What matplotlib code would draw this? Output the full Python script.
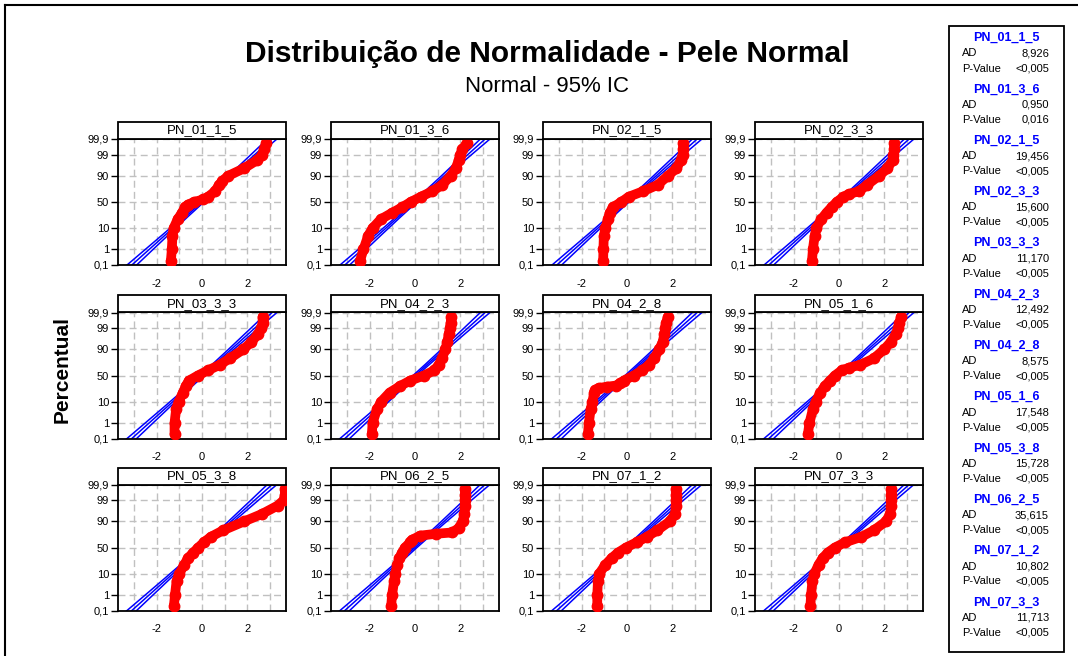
import numpy as np
import matplotlib.pyplot as plt
from matplotlib.patches import Rectangle
from statistics import NormalDist

plt.rcParams['font.family'] = ['Liberation Sans', 'DejaVu Sans']
plt.rcParams['axes.unicode_minus'] = False

# Panel names and Anderson-Darling results
names = ["PN_01_1_5", "PN_01_3_6", "PN_02_1_5", "PN_02_3_3",
         "PN_03_3_3", "PN_04_2_3", "PN_04_2_8", "PN_05_1_6",
         "PN_05_3_8", "PN_06_2_5", "PN_07_1_2", "PN_07_3_3"]
ad_values = ["8,926", "0,950", "19,456", "15,600", "11,170", "12,492",
             "8,575", "17,548", "15,728", "35,615", "10,802", "11,713"]
p_values = ["<0,005", "0,016", "<0,005", "<0,005", "<0,005", "<0,005",
            "<0,005", "<0,005", "<0,005", "<0,005", "<0,005", "<0,005"]

# percent levels and standardized values at those levels
pct_std = [0.2, 1, 5, 10, 20, 30, 40, 50, 60, 70, 80, 90, 95, 98, 99, 99.5, 99.8]

pct_01_1_5 = [0.2, 1, 5, 10, 20, 30, 40, 45, 50, 55, 60, 70, 80, 85, 90, 95, 98, 99, 99.5, 99.8]
val_01_1_5 = [-1.37, -1.33, -1.30, -1.25, -1.07, -0.88, -0.75, -0.62, -0.35, 0.05, 0.27, 0.57, 0.76,
              0.9, 1.15, 1.84, 2.43, 2.66, 2.73, 2.82]
pct_01_3_6 = pct_std
val_01_3_6 = [-2.42, -2.27, -2.06, -1.87, -1.5, -1.0, -0.56, -0.19, 0.25, 0.76, 1.2, 1.57, 1.79,
              1.93, 2.0, 2.08, 2.27]
pct_02_1_5 = pct_std
val_02_1_5 = [-1.05, -1.04, -1.02, -0.95, -0.84, -0.76, -0.62, -0.25, 0.07, 0.7, 1.35, 1.8, 2.17,
              2.38, 2.45, 2.47, 2.48]
pct_02_3_3 = [0.2, 1, 5, 10, 20, 30, 40, 50, 60, 65, 70, 80, 90, 95, 98, 99, 99.5, 99.8]
val_02_3_3 = [-1.19, -1.15, -1.07, -1.0, -0.78, -0.55, -0.33, -0.1, 0.19, 0.42, 0.87, 1.24, 1.76,
              2.13, 2.36, 2.4, 2.43, 2.43]
pct_03_3_3 = pct_std
val_03_3_3 = [-1.21, -1.21, -1.14, -1.03, -0.84, -0.72, -0.58, -0.18, 0.27, 0.78, 1.23, 1.82, 2.18,
              2.48, 2.62, 2.67, 2.67]
pct_04_2_3 = pct_std
val_04_2_3 = [-1.9, -1.87, -1.67, -1.49, -1.12, -0.67, -0.22, 0.4, 0.85, 1.04, 1.19, 1.34, 1.42,
              1.49, 1.54, 1.57, 1.6]
pct_04_2_8 = [0.2, 1, 5, 10, 20, 24, 27, 29, 31, 35, 40, 50, 60, 70, 80, 90, 95, 98, 99, 99.5, 99.8]
val_04_2_8 = [-1.72, -1.68, -1.6, -1.52, -1.45, -1.4, -1.25, -0.9, -0.5, -0.3, -0.15, 0.3, 0.67,
              0.97, 1.2, 1.42, 1.57, 1.65, 1.68, 1.72, 1.8]
pct_05_1_6 = [0.2, 1, 5, 10, 20, 30, 40, 50, 60, 65, 70, 80, 90, 95, 98, 99, 99.5, 99.8]
val_05_1_6 = [-1.37, -1.3, -1.15, -1.03, -0.82, -0.63, -0.4, -0.18, 0.12, 0.45, 0.94, 1.54, 1.99,
              2.28, 2.51, 2.61, 2.66, 2.73]
pct_05_3_8 = pct_std
val_05_3_8 = [-1.24, -1.19, -1.12, -1.0, -0.78, -0.62, -0.39, -0.16, 0.08, 0.39, 0.93, 1.86, 2.64,
              3.33, 3.6, 3.65, 3.65]
pct_06_2_5 = [0.2, 1, 5, 10, 20, 30, 40, 50, 60, 65, 72, 75, 77, 83, 90, 95, 98, 99, 99.5, 99.8]
val_06_2_5 = [-1.05, -1.01, -0.92, -0.87, -0.78, -0.69, -0.57, -0.44, -0.21, -0.12, 0.23, 0.94,
              1.65, 1.92, 2.1, 2.18, 2.2, 2.2, 2.2, 2.2]
pct_07_1_2 = pct_std
val_07_1_2 = [-1.31, -1.31, -1.28, -1.22, -0.95, -0.68, -0.4, -0.04, 0.42, 0.88, 1.33, 1.88, 2.12,
              2.15, 2.15, 2.15, 2.15]
pct_07_3_3 = pct_std
val_07_3_3 = [-1.26, -1.23, -1.17, -1.08, -0.9, -0.72, -0.5, -0.18, 0.27, 0.99, 1.53, 2.07, 2.25,
              2.3, 2.3, 2.3, 2.3]

series = [(pct_01_1_5, val_01_1_5), (pct_01_3_6, val_01_3_6), (pct_02_1_5, val_02_1_5),
          (pct_02_3_3, val_02_3_3), (pct_03_3_3, val_03_3_3), (pct_04_2_3, val_04_2_3),
          (pct_04_2_8, val_04_2_8), (pct_05_1_6, val_05_1_6), (pct_05_3_8, val_05_3_8),
          (pct_06_2_5, val_06_2_5), (pct_07_1_2, val_07_1_2), (pct_07_3_3, val_07_3_3)]

# fitted normal (standardized data) and sample size used for the 95% CI
mu, sigma, n_obs = 0.0, 1.0, 500

ytick_vals = [0.1, 1, 10, 50, 90, 99, 99.9]
ytick_labels = ["0,1", "1", "10", "50", "90", "99", "99,9"]

# probability scale
nd = NormalDist()
_ppf = np.vectorize(nd.inv_cdf, otypes=[float])
_cdf = np.vectorize(nd.cdf, otypes=[float])


def prob_fwd(p):
    p = np.clip(np.asarray(p, dtype=float), 1e-6, 100 - 1e-6)
    return _ppf(p / 100.0)


def prob_inv(z):
    return 100.0 * _cdf(np.asarray(z, dtype=float))


W, H = 1078, 656
fig = plt.figure(figsize=(W / 100, H / 100), dpi=100)


def fx(x):
    return x / W


def fy(y):
    return 1 - y / H


# outer frame
fig.add_artist(plt.Line2D([fx(5), fx(5)], [fy(5), 0], color='black', lw=1.5))
fig.add_artist(plt.Line2D([fx(5), 1], [fy(5), fy(5)], color='black', lw=1.5))

fig.text(fx(547), fy(54), "Distribuição de Normalidade - Pele Normal", ha='center', va='center',
         fontsize=21.5, fontweight='bold')
fig.text(fx(547), fy(87), "Normal - 95% IC", ha='center', va='center', fontsize=16)
fig.text(fx(62), fy(370), "Percentual", ha='center', va='center', rotation=90,
         fontsize=15, fontweight='bold')

lefts = [118, 331, 543, 755]
tops = [139, 312.5, 484.5]
aw, ah, strip = 168, 126, 17

z = np.linspace(-3.4, 3.4, 300)
fit_x = mu + sigma * z
half = 1.96 * sigma * np.sqrt((1 + z ** 2 / 2) / n_obs)
fit_p = prob_inv(z)

for i, name in enumerate(names):
    r, c = divmod(i, 4)
    ax = fig.add_axes([fx(lefts[c]), fy(tops[r] + ah), aw / W, ah / H])
    ax.set_yscale('function', functions=(prob_fwd, prob_inv))
    ax.set_ylim(0.1, 99.9)
    ax.set_xlim(-3.7, 3.7)

    ax.plot(fit_x, fit_p, color='blue', lw=1.1, zorder=2)
    ax.plot(fit_x - half, fit_p, color='blue', lw=1.1, zorder=2)
    ax.plot(fit_x + half, fit_p, color='blue', lw=1.1, zorder=2)

    pct, vals = series[i]
    ax.plot(vals, pct, color='red', lw=7, marker='o', ms=7.5, solid_capstyle='round',
            solid_joinstyle='round', zorder=3)

    ax.set_yticks(ytick_vals)
    ax.set_yticklabels(ytick_labels)
    ax.yaxis.set_minor_locator(plt.NullLocator())
    ax.set_xticks([-2, 0, 2])
    ax.set_xticks([-3, -1, 1, 3], minor=True)
    ax.tick_params(axis='y', which='major', length=5, width=1, pad=1.5, labelsize=8)
    ax.tick_params(axis='x', which='both', length=0, pad=10, labelsize=8)
    ax.grid(True, which='both', color='#c0c0c0', lw=1, linestyle=(0, (5, 3)), zorder=0)
    ax.set_axisbelow(True)
    for sp in ax.spines.values():
        sp.set_linewidth(1.3)

    ax.add_patch(Rectangle((0, 1), 1, strip / ah, transform=ax.transAxes, clip_on=False,
                           facecolor='white', edgecolor='black', lw=1.3, zorder=5))
    ax.text(0.5, 1 + strip / ah / 2, name, transform=ax.transAxes, ha='center', va='center',
            fontsize=9.5, zorder=6)

# legend box with AD statistics
fig.add_artist(Rectangle((fx(949), fy(652)), (1064 - 949) / W, (652 - 26) / H,
                         facecolor='white', edgecolor='black', lw=1.3))
for i, name in enumerate(names):
    y0 = 38 + 51.3 * i
    fig.text(fx(1006), fy(y0), name, ha='center', va='center', color='blue',
             fontsize=9, fontweight='bold')
    fig.text(fx(962), fy(y0 + 15.5), "AD", ha='left', va='center', fontsize=8)
    fig.text(fx(1049), fy(y0 + 15.5), ad_values[i], ha='right', va='center', fontsize=8)
    fig.text(fx(962), fy(y0 + 30.5), "P-Value", ha='left', va='center', fontsize=8)
    fig.text(fx(1049), fy(y0 + 30.5), p_values[i], ha='right', va='center', fontsize=8)

fig.savefig("out.png", dpi=100)
